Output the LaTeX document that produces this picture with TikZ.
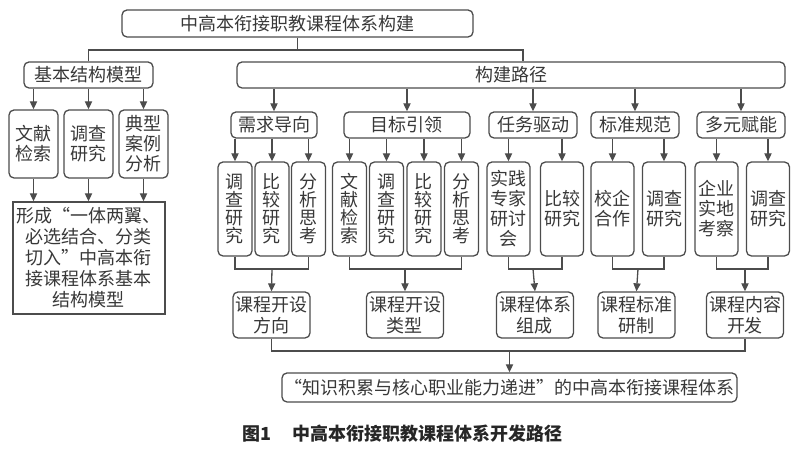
\documentclass[tikz,border=0pt]{standalone}
\usepackage{fontspec}
\setmainfont{Noto Sans CJK SC}
\usetikzlibrary{arrows.meta}
\definecolor{lc}{gray}{0.3}
\begin{document}
\begin{tikzpicture}[x=0.5pt,y=-0.5pt, text=black!78,
	font=\fontsize{9pt}{10.5pt}\selectfont,
	box/.style={draw=lc, line width=0.65pt, rounded corners=2.5pt, inner sep=0pt, align=center},
	head/.style={box, minimum height=13pt},
	mbox/.style={box, minimum width=24.5pt, minimum height=34pt, font=\fontsize{9pt}{10pt}\selectfont},
	vbox/.style={box, minimum width=17pt, minimum height=47pt, font=\fontsize{9pt}{9pt}\selectfont},
	wbox/.style={box, minimum width=21.5pt, minimum height=47pt, font=\fontsize{9pt}{10pt}\selectfont},
	rbox/.style={box, minimum width=38.5pt, minimum height=23pt},
	ln/.style={draw=lc, line width=0.65pt},
	arr/.style={ln, -{Triangle[length=4pt,width=3.6pt]}}]
	\useasboundingbox (0,0) rectangle (800,458);
	
	% top title and the two branches
	\node[head, minimum width=175.5pt, minimum height=13.5pt] (title) at (297.5,23.5) {中高本衔接职教课程体系构建};
	\node[head, minimum width=64.5pt] (jbmx) at (88.5,75) {基本结构模型};
	\node[head, minimum width=274pt] (gjlj) at (511,75) {构建路径};
	\coordinate (ty) at (297.5,50);
	\draw[ln] (title) -- (ty);
	\draw[ln] (jbmx.north) |- (ty) -| ([xshift=6pt]gjlj.north);
	
	% left branch: basic structure model
	\node[mbox] (wx) at (33.5,144) {文献\\检索};
	\node[mbox] (dc) at (88.5,144) {调查\\研究};
	\node[mbox] (dx) at (143.5,144) {典型\\案例\\分析};
	\node[draw=lc, line width=0.65pt, minimum width=76pt, minimum height=56pt, align=center, inner sep=0pt] (mx) at (89,258)
		{形成“一体两翼、\\必选结合、分类\\切入”中高本衔\\接课程体系基本\\结构模型};
	\foreach \c in {wx,dc,dx} {
		\draw[arr] (jbmx.south -| \c.north) -- (\c.north);
		\draw[arr] (\c.south) -- (\c.south |- mx.north);
	}
	
	% right branch: second level
	\node[head, minimum width=43pt] (xq) at (274,125) {需求导向};
	\node[head, minimum width=63pt] (mb) at (407,125) {目标引领};
	\node[head, minimum width=44pt] (rw) at (533,125) {任务驱动};
	\node[head, minimum width=44pt] (bz) at (635,125) {标准规范};
	\node[head, minimum width=44pt] (dy) at (741,125) {多元赋能};
	\foreach \c in {xq,mb,rw,bz,dy}
		\draw[arr] (gjlj.south -| \c.north) -- (\c.north);
	
	% third level: methods
	\node[vbox] (xq1) at (235,209) {调\\查\\研\\究};
	\node[vbox] (xq2) at (272,209) {比\\较\\研\\究};
	\node[vbox] (xq3) at (308.5,209) {分\\析\\思\\考};
	\node[vbox] (mb1) at (349.5,209) {文\\献\\检\\索};
	\node[vbox] (mb2) at (386.5,209) {调\\查\\研\\究};
	\node[vbox] (mb3) at (424,209) {比\\较\\研\\究};
	\node[vbox] (mb4) at (461.5,209) {分\\析\\思\\考};
	\node[wbox] (rw1) at (508.5,209) {实践\\专家\\研讨\\会};
	\node[wbox] (rw2) at (562,209) {比较\\研究};
	\node[wbox] (bz1) at (612.5,209) {校企\\合作};
	\node[wbox] (bz2) at (664,209) {调查\\研究};
	\node[wbox] (dy1) at (716.5,209) {企业\\实地\\考察};
	\node[wbox] (dy2) at (768,209) {调查\\研究};
	\foreach \p/\c in {xq/xq1,xq/xq2,xq/xq3,mb/mb1,mb/mb2,mb/mb3,mb/mb4,rw/rw1,rw/rw2,bz/bz1,bz/bz2,dy/dy1,dy/dy2}
		\draw[arr] (\p.south -| \c.north) -- (\c.north);
	
	% fourth level: results
	\node[rbox] (kc1) at (271.5,315) {课程开设\\方向};
	\node[rbox] (kc2) at (405,315) {课程开设\\类型};
	\node[rbox] (kc3) at (535,315) {课程体系\\组成};
	\node[rbox] (kc4) at (636.5,315) {课程标准\\研制};
	\node[rbox] (kc5) at (745,315) {课程内容\\开发};
	\foreach \a/\b/\m/\r in {xq1/xq3/272/kc1,mb1/mb4/405/kc2,rw1/rw2/533/kc3,bz1/bz2/638/kc4,dy1/dy2/745/kc5} {
		\coordinate (m\r) at (\m,269);
		\draw[ln] (\a.south) |- (m\r) -| (\b.south);
		\draw[arr] (m\r) -- (\r.north);
	}
	
	% final system
	\node[box, minimum width=227.5pt, minimum height=14.5pt] (tx) at (509.5,387.5) {“知识积累与核心职业能力递进”的中高本衔接课程体系};
	\coordinate (fy) at (509.5,351);
	\draw[ln] (kc1.south) |- (fy) -| (kc5.south);
	\draw[arr] (fy) -- (tx.north);
	
	% caption
	\node[anchor=west, inner sep=0pt, font=\fontsize{9pt}{10pt}\selectfont\bfseries, text=black!85] (cap) at (242,434) {图1\hspace{1.2em}中高本衔接职教课程体系开发路径};
\end{tikzpicture}
\end{document}
